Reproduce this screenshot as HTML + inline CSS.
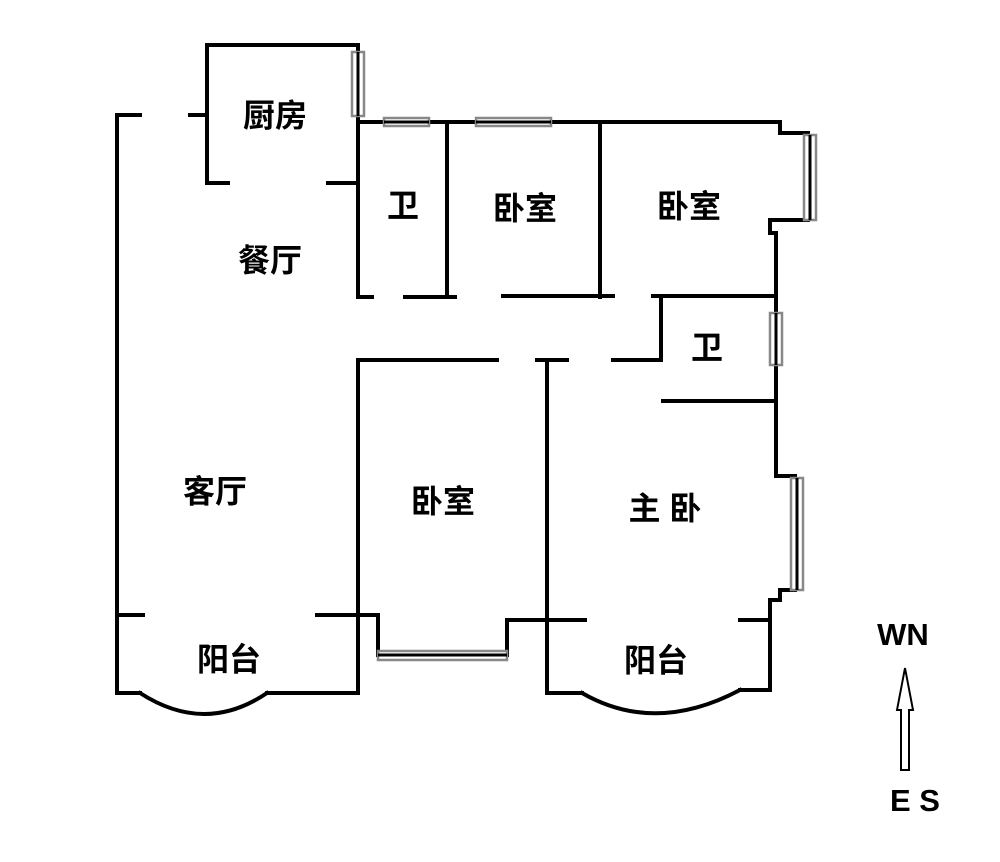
<!DOCTYPE html>
<html><head><meta charset="utf-8"><style>
html,body{margin:0;padding:0;background:#fff;}
svg{display:block}
text{font-family:"Liberation Sans","Noto Sans CJK SC",sans-serif;font-weight:bold;fill:#000;text-anchor:middle;dominant-baseline:middle}
</style></head><body>
<svg width="1000" height="862" viewBox="0 0 1000 862" xmlns="http://www.w3.org/2000/svg">
<g fill="none" stroke="#000" stroke-width="4" stroke-linecap="square">
<polyline points="140,115 117,115 117,693 140,693"/>
<line x1="190" y1="115" x2="207" y2="115"/>
<polyline points="228,183 207,183 207,45 358,45 358,297 372,297"/>
<line x1="328" y1="183" x2="358" y2="183"/>
<line x1="358" y1="122" x2="780" y2="122"/>
<line x1="447" y1="122" x2="447" y2="297"/>
<line x1="405" y1="297" x2="455" y2="297"/>
<line x1="600" y1="122" x2="600" y2="297"/>
<line x1="503" y1="296" x2="613" y2="296"/>
<polyline points="780,122 780,133 808,133"/>
<polyline points="808,220 770,220 770,233 776,233 776,476 795,476"/>
<polyline points="795,590 780,590 780,600 770,600 770,690 740,690"/>
<line x1="740" y1="620" x2="770" y2="620"/>
<polyline points="653,296 776,296"/>
<polyline points="661,296 661,360 613,360"/>
<line x1="663" y1="401" x2="776" y2="401"/>
<line x1="358" y1="360" x2="497" y2="360"/>
<line x1="537" y1="360" x2="567" y2="360"/>
<polyline points="547,360 547,693 582,693"/>
<path d="M582,693 Q655,735 740,690"/>
<line x1="547" y1="620" x2="585" y2="620"/>
<polyline points="358,360 358,693 267,693"/>
<path d="M140,693 Q205,735 267,693"/>
<line x1="117" y1="615" x2="143" y2="615"/>
<line x1="317" y1="615" x2="358" y2="615"/>
<polyline points="358,615 378,615 378,655"/>
<polyline points="507,655 507,620 547,620"/>
</g>
<g fill="#fff" stroke="#888" stroke-width="2.5">
<rect x="352" y="52" width="12" height="64"/>
<rect x="384" y="118" width="45" height="8"/>
<rect x="476" y="118" width="75" height="8"/>
<rect x="804" y="135" width="12" height="85"/>
<rect x="770" y="313" width="12" height="52"/>
<rect x="791" y="478" width="12" height="112"/>
<rect x="378" y="651" width="129" height="9"/>
</g>
<g stroke="#000" stroke-width="3">
<line x1="358" y1="52" x2="358" y2="116"/>
<line x1="384" y1="122" x2="429" y2="122"/>
<line x1="476" y1="122" x2="551" y2="122"/>
<line x1="810" y1="135" x2="810" y2="220"/>
<line x1="776" y1="313" x2="776" y2="365"/>
<line x1="797" y1="478" x2="797" y2="590"/>
<line x1="378" y1="655" x2="507" y2="655"/>
</g>
<g font-size="32">
<text x="275" y="118">厨房</text>
<text x="270" y="263">餐厅</text>
<text x="403" y="208">卫</text>
<text x="525" y="211">卧室</text>
<text x="689" y="209">卧室</text>
<text x="707" y="350">卫</text>
<text x="215" y="494">客厅</text>
<text x="443" y="504">卧室</text>
<text x="665" y="511">主 卧</text>
<text x="229" y="662">阳台</text>
<text x="656" y="663">阳台</text>
<text x="903" y="637" font-size="31">WN</text>
<text x="915" y="803" font-size="31">E S</text>
</g>
<polygon points="905,668 913,710 909,710 909,770 901,770 901,710 897,710" fill="#fff" stroke="#000" stroke-width="2"/>
</svg>
</body></html>
